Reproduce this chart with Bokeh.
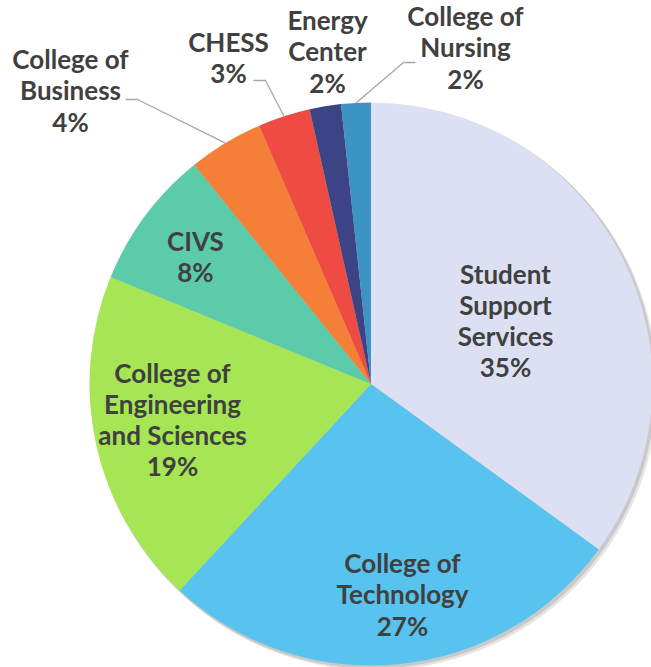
import math
from bokeh.plotting import figure
from bokeh.models import Range1d, ColumnDataSource
from bokeh.embed import file_html
from bokeh.resources import INLINE
from bokeh.core.properties import value

# ---------------- data ----------------
categories = ["Student Support Services", "College of Technology",
              "College of Engineering and Sciences", "CIVS",
              "College of Business", "CHESS", "Energy Center", "College of Nursing"]
shares = [35.0, 26.9, 19.3, 8.0, 4.3, 3.0, 1.8, 1.7]
label_lines = [["Student", "Support", "Services"],
               ["College of", "Technology"],
               ["College of", "Engineering", "and Sciences"],
               ["CIVS"],
               ["College of", "Business"],
               ["CHESS"],
               ["Energy", "Center"],
               ["College of", "Nursing"]]

# ---------------- style / layout ----------------
colors = ["#dce0f2", "#58c3ee", "#a6e655", "#5ccbaa",
          "#f57f36", "#ee4c42", "#3c4486", "#3c94c4"]
W, H = 651, 667
def sy(y):  # screen y -> data y
    return H - y

cx, cy, R = 370.5, sy(383.5), 281.5
# label centre positions (screen coords)
label_pos = [(505, 320), (402, 594), (172, 419), (195, 256),
             (70, 90), (228, 57), (327, 51), (465, 47)]
# leader lines: elbow start points (screen) for outside labels
leaders = {4: [(125, 99), (137, 99)], 5: [(253, 80), (265, 80)], 7: [(415, 62), (403, 62)]}

total = sum(shares)
starts, ends, mids = [], [], []
c = 0.0
for v in shares:
    f0 = c / total
    c += v
    f1 = c / total
    starts.append(math.pi / 2 - 2 * math.pi * f0)
    ends.append(math.pi / 2 - 2 * math.pi * f1)
    mids.append((f0 + f1) / 2)

src = ColumnDataSource(dict(cat=categories, start=starts, end=ends, color=colors))

p = figure(width=W, height=H, x_range=Range1d(0, W), y_range=Range1d(0, H),
           output_backend="svg", toolbar_location=None,
           x_axis_type=None, y_axis_type=None, min_border=0)
p.outline_line_color = None
p.grid.visible = False
p.background_fill_color = "white"

# soft shadow
p.circle(x=[cx + 4], y=[cy - 4], radius=R + 1, fill_color="#000000", fill_alpha=0.10, line_color=None)
p.circle(x=[cx + 2], y=[cy - 2], radius=R + 1, fill_color="#000000", fill_alpha=0.12, line_color=None)

p.wedge(x=cx, y=cy, radius=R, start_angle="start", end_angle="end", direction="clock",
        fill_color="color", line_color=None, source=src)

# leader lines
for i, pts in leaders.items():
    ang = 2 * math.pi * mids[i]
    ex = cx + R * math.sin(ang)
    ey = cy + R * math.cos(ang)
    xs = [pt[0] for pt in pts] + [ex]
    ys = [sy(pt[1]) for pt in pts] + [ey]
    p.line(xs, ys, line_color="#a6a6a6", line_width=1.3)

texts = ["\n".join(lines + [f"{round(v)}%"]) for lines, v in zip(label_lines, shares)]
lsrc = ColumnDataSource(dict(x=[q[0] for q in label_pos], y=[sy(q[1]) for q in label_pos], t=texts))
p.text(x="x", y="y", text="t", source=lsrc, text_align="center", text_baseline="middle",
       text_font=value("Lato"), text_font_style="bold", text_font_size="26px",
       text_color="#404040", text_line_height=0.97)

open("out.html", "w").write(file_html(p, INLINE))
